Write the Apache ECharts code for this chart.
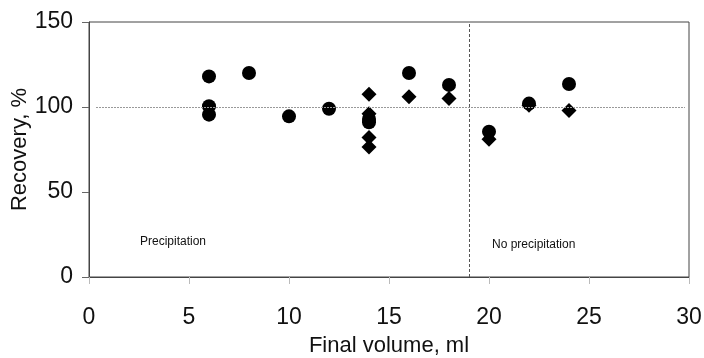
<!DOCTYPE html>
<html>
<head>
<meta charset="utf-8">
<script src="https://cdn.jsdelivr.net/npm/echarts@6/dist/echarts.min.js"></script>
<style>
  html, body { margin: 0; padding: 0; background: #fff; }
  #chart { width: 704px; height: 358px; }
</style>
</head>
<body>
<div id="chart"></div>
<script>
// circles
const volumeCircle = [6, 6, 6, 8, 10, 12, 14, 14, 16, 18, 20, 22, 24];
const recoveryCircle = [118, 100.5, 95.5, 120, 94.5, 99, 93, 91, 120, 113, 85.5, 102, 113.5];
// diamonds
const volumeDiamond = [14, 14, 14, 14, 16, 18, 20, 22, 24];
const recoveryDiamond = [107.5, 96, 82, 76.5, 106, 105, 81, 101, 98];

const xTicks = [0, 5, 10, 15, 20, 25, 30];
const yTicks = [0, 50, 100, 150];
const splitVolume = 19;
const refRecovery = 100;

const font = "'Liberation Sans', Arial, sans-serif";

const chart = echarts.init(document.getElementById("chart"));

const toPairs = (xs, ys) => xs.map((x, i) => [x, ys[i]]);

const option = {
  backgroundColor: "#fff",
  animation: false,
  grid: {
    left: 89,
    right: 15,
    top: 22,
    bottom: 81,
    outerBoundsMode: "none",
    containLabel: false,
    show: true,
    borderColor: "#444",
    borderWidth: 1,
  },
  xAxis: {
    type: "value",
    min: xTicks[0],
    max: xTicks[xTicks.length - 1],
    interval: 5,
    name: "Final volume, ml",
    nameLocation: "middle",
    nameMoveOverlap: false,
    nameGap: 58,
    nameTextStyle: { fontFamily: font, fontSize: 22, color: "#111" },
    axisLine: { lineStyle: { color: "#444", width: 1 } },
    axisTick: { show: true, length: 7, lineStyle: { color: "#bbb" } },
    axisLabel: { fontFamily: font, fontSize: 23, color: "#111", margin: 29 },
    splitLine: { show: false },
  },
  yAxis: {
    type: "value",
    min: yTicks[0],
    max: yTicks[yTicks.length - 1],
    interval: 50,
    name: "Recovery, %",
    nameLocation: "middle",
    nameMoveOverlap: false,
    nameGap: 58,
    nameTextStyle: { fontFamily: font, fontSize: 22, color: "#111" },
    axisLine: { show: true, lineStyle: { color: "#444", width: 1 } },
    axisTick: { show: true, length: 7, lineStyle: { color: "#666" } },
    axisLabel: { fontFamily: font, fontSize: 23, color: "#111", margin: 16 },
    splitLine: { show: false },
  },
  graphic: [
    {
      type: "text",
      left: 140,
      top: 236,
      style: { text: "Precipitation", font: "12px " + font, fill: "#111" },
    },
    {
      type: "text",
      left: 492,
      top: 239,
      style: { text: "No precipitation", font: "12px " + font, fill: "#111" },
    },
  ],
  series: [
    {
      type: "scatter",
      symbol: "circle",
      symbolSize: 14,
      itemStyle: { color: "#000", opacity: 1 },
      data: toPairs(volumeCircle, recoveryCircle),
      z: 3,
      markLine: {
        silent: true,
        symbol: "none",
        label: { show: false },
        data: [
          [
            { coord: [0.35, refRecovery], lineStyle: { color: "#999", type: [2, 1], width: 1 } },
            { coord: [29.8, refRecovery] },
          ],
          [
            { coord: [splitVolume, 0], lineStyle: { color: "#555", type: [3, 2], width: 1 } },
            { coord: [splitVolume, 150] },
          ],
        ],
      },
    },
    {
      type: "scatter",
      symbol: "diamond",
      symbolSize: 15,
      itemStyle: { color: "#000", opacity: 1 },
      data: toPairs(volumeDiamond, recoveryDiamond),
      z: 4,
    },
  ],
};

chart.setOption(option);
</script>
</body>
</html>
